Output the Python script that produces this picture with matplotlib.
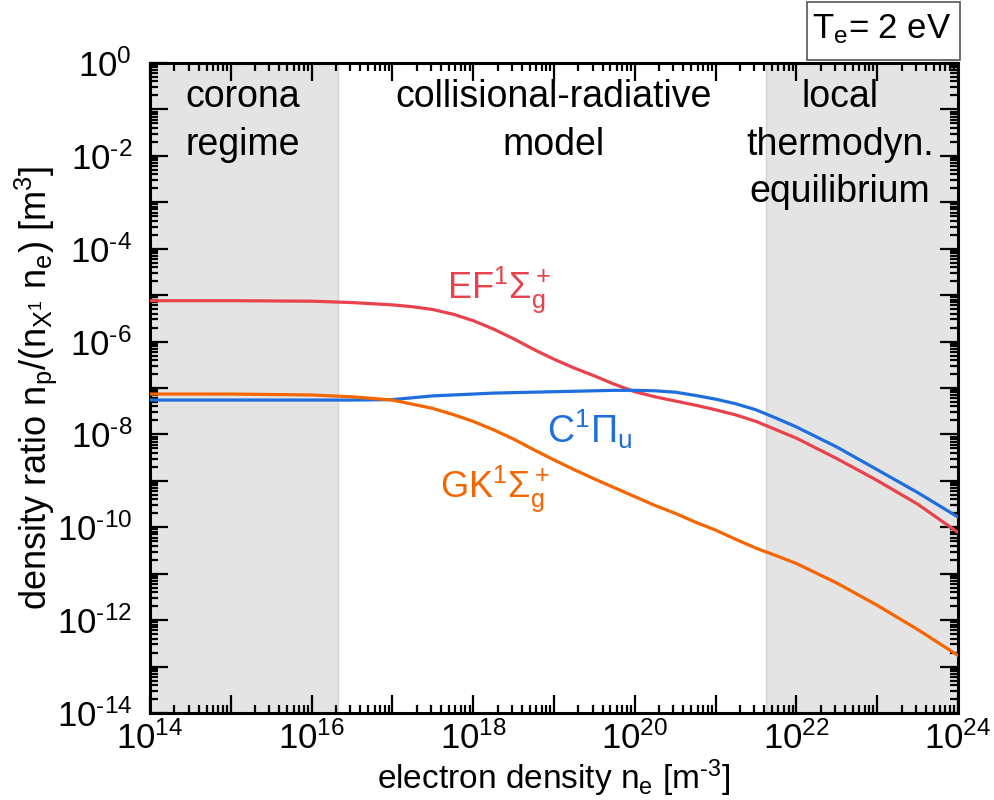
import numpy as np
import matplotlib
matplotlib.use('Agg')
import matplotlib.pyplot as plt
from matplotlib.patches import Rectangle
from matplotlib.ticker import LogLocator, FuncFormatter, NullFormatter

plt.rcParams['font.family'] = ['Liberation Sans', 'DejaVu Sans']
plt.rcParams['mathtext.fontset'] = 'custom'
plt.rcParams['mathtext.rm'] = 'Liberation Sans'
plt.rcParams['mathtext.it'] = 'Liberation Sans'
plt.rcParams['mathtext.bf'] = 'Liberation Sans:bold'

HY = '\u2010'  # short hyphen used in the exponents

# electron density grid [m^-3]
ne = [1e14, 1e15, 1e16, 3.16e16, 1e17, 1.78e17, 3.16e17, 5.62e17,
      1e18, 1.78e18, 3.16e18, 5.62e18, 1e19, 1.78e19, 3.16e19, 5.62e19,
      1e20, 1.78e20, 3.16e20, 5.62e20, 1e21, 1.78e21, 3.16e21, 5.62e21,
      1e22, 3.16e22, 1e23, 3.16e23, 1e24]

# density ratios
ef_ratio = [7.59e-6, 7.59e-6, 7.41e-6, 6.92e-6, 6.17e-6, 5.62e-6, 4.90e-6, 3.89e-6,
            2.82e-6, 1.86e-6, 1.15e-6, 6.76e-7, 4.17e-7, 2.69e-7, 1.82e-7, 1.20e-7,
            8.32e-8, 6.46e-8, 5.25e-8, 4.27e-8, 3.39e-8, 2.63e-8, 1.91e-8, 1.26e-8,
            8.32e-9, 3.02e-9, 1.02e-9, 3.16e-10, 7.76e-11]
c_ratio = [5.50e-8, 5.50e-8, 5.50e-8, 5.50e-8, 5.62e-8, 6.17e-8, 6.76e-8, 7.08e-8,
           7.41e-8, 7.76e-8, 7.94e-8, 8.13e-8, 8.32e-8, 8.51e-8, 8.71e-8, 8.91e-8,
           8.91e-8, 8.71e-8, 8.13e-8, 6.92e-8, 5.75e-8, 4.57e-8, 3.39e-8, 2.24e-8,
           1.45e-8, 5.37e-9, 1.74e-9, 5.62e-10, 1.66e-10]
gk_ratio = [7.41e-8, 7.41e-8, 7.08e-8, 6.46e-8, 5.50e-8, 4.47e-8, 3.63e-8, 2.69e-8,
            1.91e-8, 1.26e-8, 7.94e-9, 4.68e-9, 2.82e-9, 1.74e-9, 1.10e-9, 7.08e-10,
            4.57e-10, 2.95e-10, 2.00e-10, 1.29e-10, 8.71e-11, 5.50e-11, 3.55e-11, 2.45e-11,
            1.66e-11, 6.31e-12, 2.09e-12, 6.31e-13, 1.74e-13]

# regime boundaries
corona_end = 2.1e16
lte_start = 4.2e21

red = '#e8424c'
blue = '#1f6ede'
orange = '#f56500'

fig = plt.figure(figsize=(9.95, 8.0), dpi=100)
ax = fig.add_axes([0.1508, 0.10875, 0.812, 0.8125])

ax.axvspan(1e14, corona_end, facecolor='#e4e4e4', edgecolor='#d2d2d2', lw=1, zorder=0)
ax.axvspan(lte_start, 1e24, facecolor='#e4e4e4', edgecolor='#d2d2d2', lw=1, zorder=0)

ax.plot(ne, ef_ratio, color=red, lw=2.3, zorder=3)
ax.plot(ne, c_ratio, color=blue, lw=2.3, zorder=3)
ax.plot(ne, gk_ratio, color=orange, lw=2.3, zorder=3)

ax.set_xscale('log')
ax.set_yscale('log')
ax.set_xlim(1e14, 1e24)
ax.set_ylim(1e-14, 1e0)

def even_exp(v, pos):
    e = int(round(np.log10(v)))
    if e % 2:
        return ''
    s = str(e).replace('-', HY)
    return r'$\mathregular{10^{%s}}$' % s

for axis in (ax.xaxis, ax.yaxis):
    axis.set_major_locator(LogLocator(base=10, numticks=30))
    axis.set_minor_locator(LogLocator(base=10, subs=np.arange(2, 10), numticks=30))
    axis.set_major_formatter(FuncFormatter(even_exp))
    axis.set_minor_formatter(NullFormatter())

ax.tick_params(which='both', direction='in', top=True, right=True, labelsize=25, width=1.6)
ax.tick_params(which='major', length=13)
ax.tick_params(which='minor', length=6)
ax.tick_params(axis='x', pad=6)
ax.tick_params(axis='y', pad=13)
for s in ax.spines.values():
    s.set_linewidth(2.2)

ax.set_xlabel(r'electron density $\mathregular{n_e\ [m^{%s3}]}$' % HY, fontsize=24)
ax.xaxis.set_label_coords(0.5, -0.1175)
ax.xaxis.label.set_va('baseline')
ax.set_ylabel(r'density ratio $\mathregular{n_p/(n_{X^1}\ n_e)\ [m^3]}$', fontsize=26)
ax.yaxis.set_label_coords(-0.142, 0.5)
ax.yaxis.label.set_va('center')

# regime labels, one line at a time
def region_label(x, lines):
    for txt, yb in zip(lines, [0.932, 0.858, 0.786]):
        ax.text(x, yb, txt, transform=ax.transAxes, ha='center', va='baseline', fontsize=27)

region_label(0.115, ['corona', 'regime'])
region_label(0.499, ['collisional-radiative', 'model'])
region_label(0.854, ['local', 'thermodyn.', 'equilibrium'])

# curve labels
ax.text(4.8e17, 8.7e-6, r'$\mathregular{EF^1\Sigma_g^+}$', color=red, fontsize=26,
        ha='left', va='baseline')
ax.text(8.1e18, 6.5e-9, r'$\mathregular{C^1\Pi_u}$', color=blue, fontsize=27,
        ha='left', va='baseline')
ax.text(3.9e17, 4.5e-10, r'$\mathregular{GK^1\Sigma_g^+}$', color=orange, fontsize=26,
        ha='left', va='baseline')

# temperature box
fig.patches.append(Rectangle((0.811, 0.925), 0.154, 0.0725, transform=fig.transFigure,
                             facecolor='white', edgecolor='#555555', lw=1.2))
fig.text(0.8865, 0.9525, r'$\mathregular{T_e}$= 2 eV', ha='center', va='baseline', fontsize=25)

fig.savefig('out.png', dpi=100)
